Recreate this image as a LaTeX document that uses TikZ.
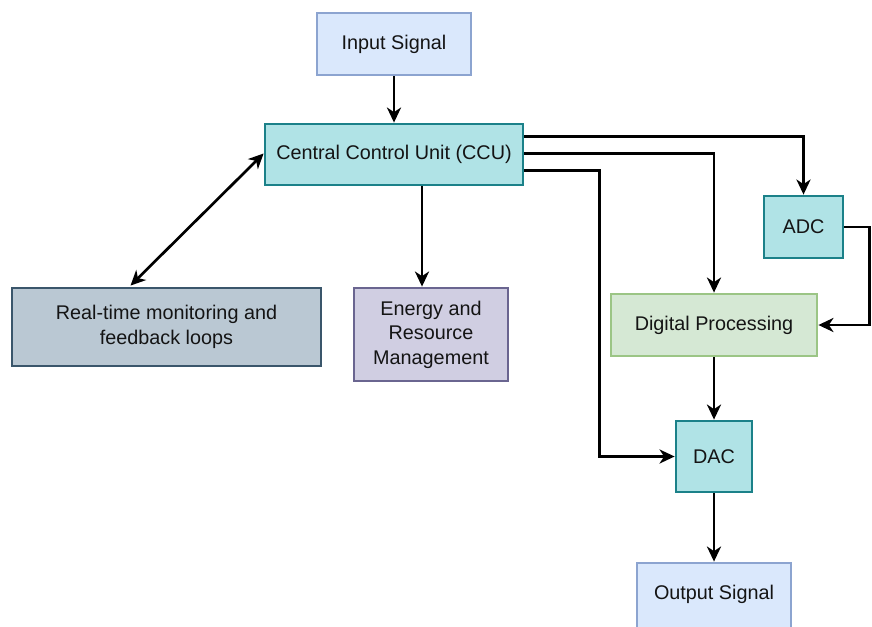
\documentclass[tikz,border=0pt]{standalone}
\usepackage{fontspec}
\setmainfont{Liberation Sans}
\usetikzlibrary{arrows.meta,positioning}

\definecolor{blueFill}{HTML}{DAE8FC}
\definecolor{blueLine}{HTML}{8CA4D0}
\definecolor{tealFill}{HTML}{B0E3E6}
\definecolor{tealLine}{HTML}{1B8189}
\definecolor{slateFill}{HTML}{BAC8D3}
\definecolor{slateLine}{HTML}{3A566B}
\definecolor{violetFill}{HTML}{D0CEE2}
\definecolor{violetLine}{HTML}{6A6590}
\definecolor{greenFill}{HTML}{D5E8D4}
\definecolor{greenLine}{HTML}{9BC585}
\definecolor{inkText}{HTML}{141414}

\tikzset{
  box/.style={draw, line width=2.8pt, inner sep=0pt, align=center,
    text=inkText, font=\fontsize{19.8}{24.5}\selectfont},
  sigbox/.style={box, fill=blueFill, draw=blueLine},
  unitbox/.style={box, fill=tealFill, draw=tealLine},
  monbox/.style={box, fill=slateFill, draw=slateLine},
  resbox/.style={box, fill=violetFill, draw=violetLine},
  procbox/.style={box, fill=greenFill, draw=greenLine},
  tip/.style={},
  arr/.style={line width=2.7pt, draw=black,
    -{Stealth[length=15pt,width=14pt,inset=4.5pt]}},
  biarr/.style={line width=2.7pt, draw=black,
    {Stealth[length=15pt,width=14pt,inset=4.5pt]}-{Stealth[length=15pt,width=14pt,inset=4.5pt]}},
}

\begin{document}
\begin{tikzpicture}[x=1pt,y=-1pt]
  \clip (0,0) rectangle (872,626);
  \fill[white] (0,0) rectangle (872,626);

  % blocks
  \node[sigbox, minimum width=154pt, minimum height=62pt] (in) at (394,44) {Input Signal};
  \node[unitbox, minimum width=258pt, minimum height=61pt] (ccu) at (394,154.5) {Central Control Unit (CCU)};
  \node[monbox, minimum width=309pt, minimum height=78pt] (rt) at (166.5,327) {Real-time monitoring and\\feedback loops};
  \node[resbox, minimum width=154pt, minimum height=93pt] (en) at (431,334.5) {Energy and\\Resource\\Management};
  \node[unitbox, minimum width=79pt, minimum height=62pt] (adc) at (803.5,227) {ADC};
  \node[procbox, minimum width=206pt, minimum height=62pt] (dp) at (714,325) {Digital Processing};
  \node[unitbox, minimum width=76pt, minimum height=71pt] (dac) at (714,456.5) {DAC};
  \node[sigbox, minimum width=154pt, minimum height=80pt] (out) at (714,603) {};
  \node[text=inkText, font=\fontsize{19.8}{24.5}\selectfont, inner sep=0pt] (outlbl) at (714,594) {Output Signal};

  % connectors
  \draw[arr] (in.south) -- (ccu.north);
  \draw[arr] ([yshift=18pt]ccu.east) -| (adc.north);
  \draw[arr] ([yshift=1pt]ccu.east) -| (dp.north);
  \draw[arr] ([yshift=-16pt]ccu.east) -- ++(75,0) |- (dac.west);
  \draw[arr] (adc.east) -- ++(25,0) |- (dp.east);
  \draw[arr] (dp.south) -- (dac.north);
  \draw[arr] (dac.south) -- (out.north);
  \draw[arr] ([xshift=28pt]ccu.south) -- ([xshift=-9pt]en.north);
  \draw[biarr] ([xshift=-36pt,yshift=1pt]rt.north) -- ([yshift=1pt]ccu.west);
\end{tikzpicture}
\end{document}
